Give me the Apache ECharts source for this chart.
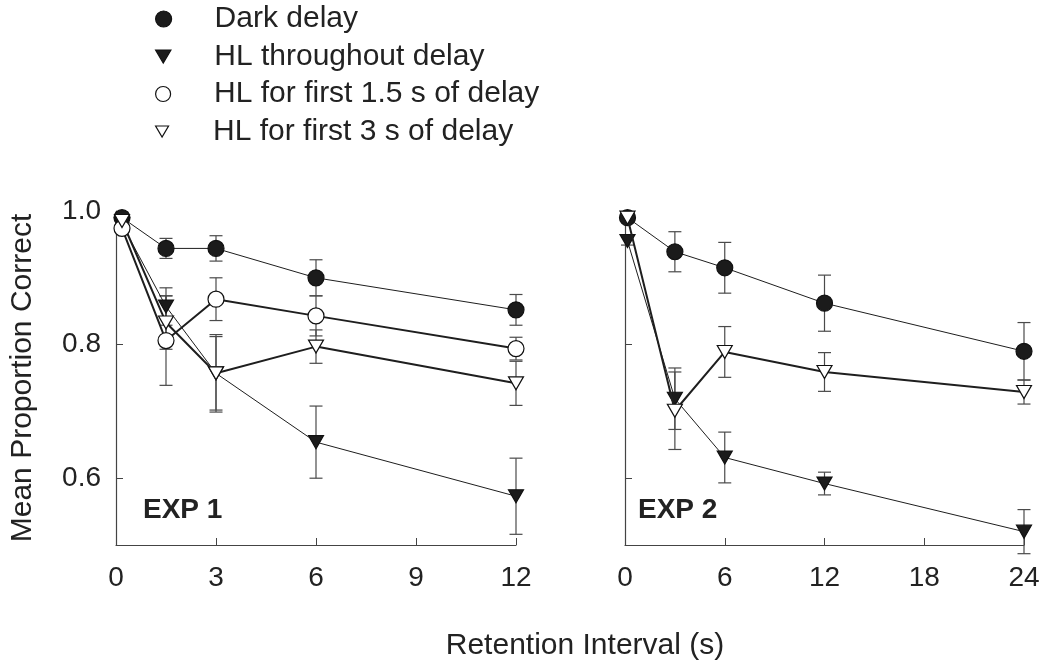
<!DOCTYPE html>
<html><head><meta charset="utf-8">
<script src="https://cdn.jsdelivr.net/npm/echarts@6/dist/echarts.min.js"></script>
<style>html,body{margin:0;padding:0;background:#fff}#c{width:1046px;height:665px}</style>
</head><body><div id="c"></div>
<script>
const FONT = '"Liberation Sans", Arial, Helvetica, sans-serif';
const seriesNames = ['Dark delay', 'HL throughout delay', 'HL for first 1.5 s of delay', 'HL for first 3 s of delay'];

// EXP 1 (left panel)
const exp1X = [0.18, 1.5, 3, 6, 12];
const exp1Dark = [0.99, 0.944, 0.944, 0.900, 0.852];
const exp1DarkErr = [0.008, 0.015, 0.019, 0.027, 0.023];
const exp1Through = [0.98, 0.857, 0.757, 0.654, 0.573];
const exp1ThroughErr = [0.006, 0.028, 0.055, 0.054, 0.057];
const exp1First15 = [0.974, 0.806, 0.868, 0.843, 0.794];
const exp1First15Err = [0.006, 0.067, 0.032, 0.030, 0.017];
const exp1First3 = [0.985, 0.833, 0.757, 0.797, 0.742];
const exp1First3Err = [0.006, 0.040, 0.058, 0.025, 0.033];

// EXP 2 (right panel)
const exp2X = [0.15, 3, 6, 12, 24];
const exp2Dark = [0.99, 0.939, 0.915, 0.862, 0.790];
const exp2DarkErr = [0.006, 0.030, 0.038, 0.042, 0.043];
const exp2Through = [0.955, 0.719, 0.631, 0.592, 0.520];
const exp2ThroughErr = [0.006, 0.046, 0.038, 0.017, 0.033];
const exp2First3 = [0.99, 0.701, 0.789, 0.759, 0.729];
const exp2First3Err = [0.006, 0.058, 0.038, 0.029, 0.018];

const exp1XTicks = [0, 3, 6, 9, 12];
const exp2XTicks = [0, 6, 12, 18, 24];
const yTicks = [0.6, 0.8, 1.0];

const TRI_DOWN = 'path://M0,0 L20,0 L10,17 Z';
const styles = [
  {symbol: 'circle', size: 16, fill: '#1b1b1b', lw: 1},
  {symbol: TRI_DOWN, size: [15, 13], fill: '#1b1b1b', lw: 1},
  {symbol: 'circle', size: 16, fill: '#ffffff', lw: 2},
  {symbol: TRI_DOWN, size: [15, 13], fill: '#ffffff', lw: 2}
];

const panels = [
  {x: exp1X, sets: [[0, exp1Dark, exp1DarkErr], [1, exp1Through, exp1ThroughErr], [2, exp1First15, exp1First15Err], [3, exp1First3, exp1First3Err]]},
  {x: exp2X, sets: [[0, exp2Dark, exp2DarkErr], [1, exp2Through, exp2ThroughErr], [3, exp2First3, exp2First3Err]]}
];

const series = [];
panels.forEach((p, pi) => {
  p.sets.forEach(([si, vals, errs]) => {
    series.push({
      type: 'custom', name: seriesNames[si] + ' error ' + pi,
      xAxisIndex: pi, yAxisIndex: pi, z: 1, silent: true, clip: false,
      encode: {x: 0, y: [1, 2]},
      data: p.x.map((xv, i) => [xv, vals[i] - errs[i], vals[i] + errs[i]]),
      renderItem: (params, api) => {
        const x = api.value(0);
        const a = api.coord([x, api.value(1)]);
        const b = api.coord([x, api.value(2)]);
        const hw = 6.5;
        const st = {stroke: '#4a4a4a', lineWidth: 1.2};
        return {type: 'group', children: [
          {type: 'line', shape: {x1: a[0], y1: a[1], x2: b[0], y2: b[1]}, style: st},
          {type: 'line', shape: {x1: a[0] - hw, y1: a[1], x2: a[0] + hw, y2: a[1]}, style: st},
          {type: 'line', shape: {x1: b[0] - hw, y1: b[1], x2: b[0] + hw, y2: b[1]}, style: st}
        ]};
      }
    });
  });
});
panels.forEach((p, pi) => {
  p.sets.forEach(([si, vals]) => {
    const s = styles[si];
    series.push({
      type: 'line', name: seriesNames[si], xAxisIndex: pi, yAxisIndex: pi,
      z: 3 + (si === 0 || si === 1 ? 0 : 1), clip: false, animation: false,
      data: p.x.map((xv, i) => [xv, vals[i]]),
      symbol: s.symbol, symbolSize: s.size, showAllSymbol: true,
      lineStyle: {color: '#1e1e1e', width: s.lw},
      itemStyle: {color: s.fill, borderColor: '#111', borderWidth: 1.2, opacity: 1},
      emphasis: {disabled: true}
    });
  });
});

const legendIcon = [
  {icon: 'circle', w: 16, h: 16},
  {icon: TRI_DOWN, w: 15, h: 13},
  {icon: 'circle', w: 15, h: 15},
  {icon: TRI_DOWN, w: 14, h: 11}
];
const legends = seriesNames.map((n, i) => ({
  orient: 'vertical', left: 155, top: 4 + i * 37.5, padding: 0,
  itemWidth: 92, itemHeight: legendIcon[i].h, selectedMode: false,
  data: [{name: n, icon: legendIcon[i].icon, itemStyle: {color: styles[i].fill, borderColor: '#111', borderWidth: 1.2}}],
  textStyle: {fontFamily: FONT, fontSize: 30, color: '#222', lineHeight: 30}
}));

const axisLine = {show: true, lineStyle: {color: '#444', width: 1.2}};
const labelStyle = {fontFamily: FONT, fontSize: 28, color: '#222'};

const option = {
  backgroundColor: '#fff',
  animation: false,
  legend: legends,
  grid: [
    {left: 116, right: 1046 - 516, top: 211, bottom: 665 - 545},
    {left: 625, right: 1046 - 1024, top: 211, bottom: 665 - 545}
  ],
  xAxis: [
    {type: 'value', gridIndex: 0, min: 0, max: 12, interval: 3, axisLine,
     axisTick: {show: true, inside: true, length: 7, lineStyle: {color: '#444'}, customValues: exp1XTicks},
     axisLabel: Object.assign({margin: 19, customValues: exp1XTicks}, labelStyle), splitLine: {show: false}},
    {type: 'value', gridIndex: 1, min: 0, max: 24, interval: 6, axisLine,
     axisTick: {show: true, inside: true, length: 7, lineStyle: {color: '#444'}, customValues: exp2XTicks},
     axisLabel: Object.assign({margin: 19, customValues: exp2XTicks}, labelStyle), splitLine: {show: false}}
  ],
  yAxis: [
    {type: 'value', gridIndex: 0, min: 0.5, max: 1.0, axisLine,
     axisTick: {show: true, inside: true, length: 7, lineStyle: {color: '#444'}, customValues: yTicks},
     axisLabel: Object.assign({margin: 15, customValues: yTicks, formatter: v => v.toFixed(1)}, labelStyle),
     splitLine: {show: false},
     name: 'Mean Proportion Correct', nameLocation: 'middle', nameGap: 78,
     nameTextStyle: {fontFamily: FONT, fontSize: 30, color: '#222'}},
    {type: 'value', gridIndex: 1, min: 0.5, max: 1.0, axisLine,
     axisTick: {show: true, inside: true, length: 7, lineStyle: {color: '#444'}, customValues: yTicks},
     axisLabel: {show: false}, splitLine: {show: false}}
  ],
  graphic: [
    {type: 'text', left: 143, top: 496, style: {text: 'EXP 1', font: 'bold 28px ' + FONT, fill: '#222'}},
    {type: 'text', left: 638, top: 496, style: {text: 'EXP 2', font: 'bold 28px ' + FONT, fill: '#222'}},
    {type: 'text', x: 585, y: 646, style: {text: 'Retention Interval (s)', font: '30px ' + FONT, fill: '#222', align: 'center', verticalAlign: 'middle'}}
  ],
  series
};
const chart = echarts.init(document.getElementById('c'), null, {renderer: 'canvas'});
chart.setOption(option);
</script>
</body></html>
